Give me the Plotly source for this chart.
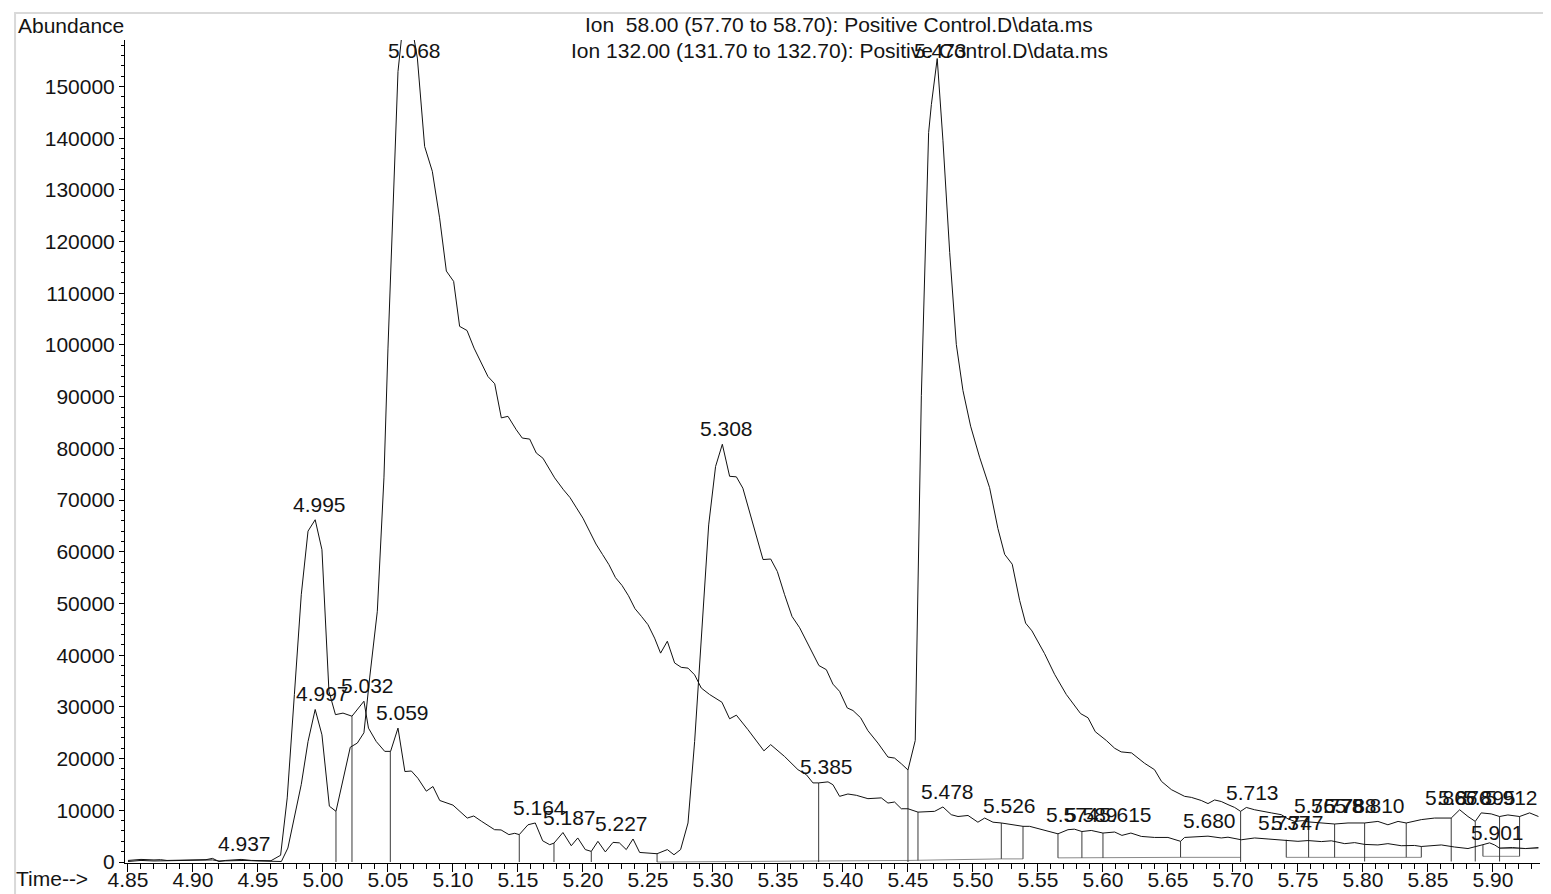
import plotly.graph_objects as go

# ---------------- data ----------------
# Trace A (peaks 4.995, 5.032, 5.059, 5.164 ... 5.308, 5.473, 5.713 ...)
trace_a_t = [4.850, 4.855, 4.860, 4.870, 4.875, 4.880, 4.890, 4.900, 4.910, 4.915,
             4.920, 4.925, 4.930, 4.937, 4.945, 4.955, 4.960, 4.9674, 4.9725, 4.978,
             4.9833, 4.9885, 4.994, 4.9992, 5.0046, 5.0096, 5.0154, 5.0223, 5.0315, 5.035,
             5.041, 5.0475, 5.052, 5.0577, 5.063, 5.068, 5.073, 5.0795, 5.0846, 5.0898,
             5.100, 5.111, 5.116, 5.1218, 5.132, 5.137, 5.143, 5.1475, 5.151, 5.1577,
             5.1633, 5.169, 5.1744, 5.1777, 5.1846, 5.191, 5.196, 5.2018, 5.2064, 5.2115,
             5.2172, 5.2231, 5.228, 5.2333, 5.2385, 5.2436, 5.2513, 5.257, 5.2649, 5.270,
             5.2751, 5.2808, 5.2859, 5.291, 5.2967, 5.302, 5.3072, 5.3128, 5.318, 5.323,
             5.3295, 5.3385, 5.3444, 5.3495, 5.3551, 5.3608, 5.3667, 5.3756, 5.3815, 5.3872,
             5.3923, 5.3974, 5.4033, 5.4077, 5.4136, 5.4192, 5.4269, 5.4346, 5.4397, 5.4449,
             5.450, 5.4556, 5.4603, 5.4659, 5.468, 5.4725, 5.4769, 5.4821, 5.4872, 5.4923,
             5.4982, 5.5051, 5.5128, 5.5192, 5.5244, 5.5302, 5.5359, 5.5405, 5.5454, 5.5551,
             5.5628, 5.5718, 5.5828, 5.5885, 5.5941, 5.6026, 5.609, 5.614, 5.622, 5.632,
             5.6397, 5.645, 5.6526, 5.6628, 5.668, 5.6756, 5.6808, 5.6859, 5.691, 5.6962,
             5.7013, 5.7059, 5.7103, 5.7167, 5.7244, 5.7295, 5.7372, 5.7423, 5.7474, 5.7538,
             5.7582, 5.7679, 5.7782, 5.7885, 5.8013, 5.8115, 5.8192, 5.827, 5.8333, 5.8449,
             5.8551, 5.8679, 5.8744, 5.8808, 5.8864, 5.891, 5.8987, 5.9051, 5.9115, 5.9205,
             5.9282, 5.935]
trace_a_v = [300, 400, 500, 400, 450, 300, 350, 350, 450, 700,
             100, 300, 350, 500, 300, 250, 250, 1300, 12400, 32400,
             51700, 64000, 66200, 60400, 33000, 28500, 28800, 28200, 31100, 25900,
             23300, 21400, 21400, 25900, 17500, 17600, 16200, 13700, 14600, 11900,
             11000, 8500, 8900, 7900, 6250, 6200, 5300, 5550, 5300, 7200,
             7550, 4100, 3350, 3650, 5700, 3150, 4650, 2400, 2050, 4000,
             1950, 3800, 3700, 2400, 4450, 1850, 1750, 1600, 2400, 1400,
             2400, 7550, 23300, 42700, 65200, 76500, 80800, 74600, 74500, 72300,
             66500, 58500, 58600, 56200, 51700, 47500, 45300, 40800, 38000, 37200,
             34400, 33000, 29800, 29300, 27900, 25400, 23000, 20300, 20100, 19000,
             17800, 23500, 90200, 141100, 146500, 155400, 139600, 117900, 100100, 91200,
             84300, 78300, 72400, 64500, 59500, 57600, 50600, 46200, 44700, 40300,
             36300, 32400, 28700, 27900, 25200, 23500, 22000, 21300, 21100, 19100,
             17850, 15600, 14000, 12700, 12500, 11900, 11300, 12000, 11700, 11100,
             10550, 9800, 10550, 10100, 9800, 9500, 9150, 8350, 7850, 8000,
             7750, 7550, 7350, 7550, 7550, 7850, 7200, 7850, 7550, 8200,
             8500, 8500, 10100, 8800, 7850, 9500, 9300, 8800, 9100, 8800,
             9500, 8800]

# Trace B (peaks 4.997, 5.068, 5.385, 5.478, 5.526 ...)
trace_b_t = [4.850, 4.860, 4.870, 4.880, 4.890, 4.900, 4.910, 4.915, 4.920, 4.930,
             4.940, 4.950, 4.960, 4.968, 4.973, 4.978, 4.9833, 4.9885, 4.994, 4.9992,
             5.0049, 5.010, 5.0154, 5.021, 5.0264, 5.0315, 5.0359, 5.0418, 5.0469, 5.050,
             5.0577, 5.0615, 5.0675, 5.0726, 5.0782, 5.0841, 5.0897, 5.0949, 5.1005, 5.1051,
             5.1108, 5.1162, 5.1269, 5.1321, 5.1372, 5.1423, 5.1487, 5.1533, 5.159, 5.1641,
             5.1692, 5.1782, 5.185, 5.190, 5.195, 5.200, 5.205, 5.210, 5.215, 5.220,
             5.225, 5.230, 5.235, 5.240, 5.245, 5.250, 5.2551, 5.2597, 5.2649, 5.2705,
             5.2756, 5.2808, 5.2859, 5.291, 5.2974, 5.3069, 5.3128, 5.318, 5.3269, 5.3392,
             5.3444, 5.3551, 5.3654, 5.3718, 5.3769, 5.3813, 5.3885, 5.3923, 5.3974, 5.4038,
             5.4103, 5.4192, 5.4295, 5.4346, 5.4397, 5.4449, 5.450, 5.4577, 5.4705, 5.4769,
             5.4833, 5.4885, 5.4962, 5.5038, 5.509, 5.5154, 5.5218, 5.5282, 5.5385, 5.5436,
             5.550, 5.559, 5.5654, 5.5731, 5.578, 5.5838, 5.591, 5.600, 5.609, 5.6146,
             5.6215, 5.6295, 5.6397, 5.650, 5.6551, 5.6597, 5.6628, 5.6756, 5.6808, 5.691,
             5.6962, 5.7064, 5.7167, 5.727, 5.7346, 5.741, 5.750, 5.7577, 5.768, 5.7757,
             5.786, 5.7936, 5.8013, 5.8115, 5.8192, 5.8295, 5.8397, 5.8449, 5.8603, 5.8705,
             5.8808, 5.8923, 5.8974, 5.9013, 5.905, 5.915, 5.925, 5.935]
trace_b_v = [100, 300, 200, 250, 200, 250, 300, 400, 200, 250,
             300, 200, 150, 100, 2700, 8500, 15000, 23300, 29500, 24600,
             10800, 9800, 15600, 22200, 23000, 25000, 35600, 48500, 74300, 99400,
             152900, 162000, 163000, 155500, 138400, 133600, 124600, 114300, 112300, 103600,
             102800, 99400, 93900, 92500, 85900, 86200, 83600, 82000, 81800, 79100,
             78100, 74300, 72000, 70500, 68500, 66500, 64000, 61500, 59500, 57500,
             55000, 53500, 51500, 49000, 47500, 45900, 43300, 40400, 42700, 38500,
             37650, 37500, 36200, 33650, 32400, 30900, 27700, 28400, 25600, 21500,
             22700, 20400, 17850, 16900, 15300, 15300, 15500, 14950, 12700, 13150,
             12900, 12250, 12400, 11400, 11600, 10300, 10300, 9650, 9800, 10650,
             9150, 8800, 9000, 7700, 8500, 7700, 7550, 7350, 6900, 6900,
             6450, 5900, 5450, 6250, 6350, 5900, 6100, 5600, 5800, 5150,
             5600, 4950, 4750, 4750, 4300, 4000, 4750, 4900, 5000, 4650,
             4800, 4300, 4650, 4450, 4300, 4300, 4000, 4150, 3950, 4100,
             3550, 3750, 3400, 3300, 3550, 3150, 3200, 3000, 3300, 2900,
             2600, 3350, 3700, 3300, 2700, 2800, 2600, 2800]

# integration drop lines: time, top abundance, bottom abundance
drop_t = [5.0100, 5.0223, 5.0518, 5.1510, 5.1777, 5.2064, 5.2570, 5.3813, 5.4500, 5.4577,
          5.5218, 5.5385, 5.5654, 5.5838, 5.6000, 5.6597, 5.7059, 5.7410, 5.7582, 5.7782,
          5.8013, 5.8333, 5.8449, 5.8679, 5.8864, 5.8923, 5.9051, 5.9205]
drop_top = [9800, 28200, 21400, 5300, 3650, 2050, 1600, 15300, 17800, 9650,
            7550, 6900, 5450, 5900, 5600, 4000, 9800, 4300, 7750, 7350,
            7550, 7550, 3000, 8500, 7850, 3350, 8800, 8800]
drop_bot = [0, 0, 0, 0, 0, 0, 0, 0, 0, 300,
            600, 600, 800, 800, 800, 900, 0, 900, 900, 900,
            100, 900, 900, 100, 100, 1100, 100, 1100]

# integration baselines: start time, end time, start abundance, end abundance
base_t0 = [5.2570, 5.4500, 5.5218, 5.5654, 5.6597, 5.7410, 5.8333, 5.8923, 5.9051]
base_t1 = [5.4500, 5.5218, 5.5385, 5.6597, 5.7059, 5.8333, 5.8449, 5.9205, 5.9350]
base_v0 = [0, 300, 600, 800, 900, 900, 900, 1100, 2600]
base_v1 = [300, 600, 600, 900, 900, 900, 900, 1100, 2600]

# peak labels: retention time and apex abundance used to place the text
label_t = [4.937, 4.995, 4.997, 5.032, 5.059, 5.068, 5.164, 5.187, 5.227, 5.308,
           5.385, 5.473, 5.478, 5.526, 5.574, 5.589, 5.615, 5.680, 5.713, 5.737,
           5.747, 5.765, 5.778, 5.788, 5.810, 5.866, 5.876, 5.895, 5.901, 5.912]
label_v = [500, 66200, 29500, 31100, 25900, 154000, 7550, 5700, 4450, 80800,
           15500, 154000, 10650, 7900, 6200, 6200, 6200, 5000, 10450, 4650,
           4650, 7950, 7950, 7950, 7950, 9500, 9500, 9500, 2700, 9500]

x_ticks = [4.85, 4.90, 4.95, 5.00, 5.05, 5.10, 5.15, 5.20, 5.25, 5.30, 5.35, 5.40,
           5.45, 5.50, 5.55, 5.60, 5.65, 5.70, 5.75, 5.80, 5.85, 5.90]
y_ticks = [0, 10000, 20000, 30000, 40000, 50000, 60000, 70000, 80000, 90000,
           100000, 110000, 120000, 130000, 140000, 150000]

title_lines = ["Ion\u00a0 58.00 (57.70 to 58.70): Positive Control.D\\data.ms",
               "Ion 132.00 (131.70 to 132.70): Positive Control.D\\data.ms"]

# ---------------- figure ----------------
FONT = "Liberation Sans, Arial, sans-serif"
TXT = "#141414"
fig = go.Figure()

# baselines
bx, by = [], []
for t0, t1, v0, v1 in zip(base_t0, base_t1, base_v0, base_v1):
    bx += [t0, t1, None]
    by += [v0, v1, None]
fig.add_trace(go.Scatter(x=bx, y=by, mode="lines",
                         line=dict(color="#8a8a8a", width=1), hoverinfo="skip"))

# drop lines
dx, dy = [], []
for t, top, bot in zip(drop_t, drop_top, drop_bot):
    dx += [t, t, None]
    dy += [bot, top, None]
fig.add_trace(go.Scatter(x=dx, y=dy, mode="lines",
                         line=dict(color="#3a3a3a", width=1), hoverinfo="skip"))

fig.add_trace(go.Scatter(x=trace_a_t, y=trace_a_v, mode="lines",
                         line=dict(color="#111111", width=1), name="A"))
fig.add_trace(go.Scatter(x=trace_b_t, y=trace_b_v, mode="lines",
                         line=dict(color="#111111", width=1), name="B"))

for t, v in zip(label_t, label_v):
    fig.add_annotation(x=t, y=v, xref="x", yref="y", text=f"{t:.3f}",
                       showarrow=False, xanchor="center", yanchor="bottom",
                       xshift=3, yshift=2,
                       font=dict(family=FONT, size=21, color=TXT))

# title lines
fig.add_annotation(x=0.5046, y=1.019, xref="paper", yref="paper", text=title_lines[0],
                   showarrow=False, xanchor="center", yanchor="middle",
                   font=dict(family=FONT, size=21, color=TXT))
fig.add_annotation(x=0.5046, y=0.987, xref="paper", yref="paper", text=title_lines[1],
                   showarrow=False, xanchor="center", yanchor="middle",
                   font=dict(family=FONT, size=21, color=TXT))
fig.add_annotation(x=-0.077, y=1.018, xref="paper", yref="paper", text="Abundance",
                   showarrow=False, xanchor="left", yanchor="middle",
                   font=dict(family=FONT, size=21, color=TXT))
fig.add_annotation(x=-0.0785, y=-0.0194, xref="paper", yref="paper", text="Time-->",
                   showarrow=False, xanchor="left", yanchor="middle",
                   font=dict(family=FONT, size=21, color=TXT))

# light frame around the whole picture
fig.add_shape(type="rect", xref="paper", yref="paper",
              x0=-0.0777, x1=1.0078, y0=-0.0425, y1=1.0328,
              line=dict(color="#d9d9d9", width=2))

fig.update_layout(
    width=1551, height=894,
    margin=dict(l=117, r=19, t=32, b=39),
    paper_bgcolor="white", plot_bgcolor="white",
    showlegend=False,
    font=dict(family=FONT, size=21, color=TXT),
    xaxis=dict(range=[4.8477, 5.9362], tickmode="array", tickvals=x_ticks,
               ticktext=[f"{v:.2f}" for v in x_ticks],
               ticks="outside", ticklen=8, tickwidth=1, tickcolor="black",
               ticklabelstandoff=-10,
               showline=True, linecolor="black", linewidth=1,
               showgrid=False, zeroline=False,
               minor=dict(dtick=0.01, tick0=4.85, ticks="outside", ticklen=5,
                          tickcolor="black", showgrid=False),
               tickfont=dict(family=FONT, size=21, color=TXT)),
    yaxis=dict(range=[-193, 158990], tickmode="array", tickvals=y_ticks,
               ticktext=[str(v) for v in y_ticks],
               ticks="outside", ticklen=5, tickwidth=1, tickcolor="black",
               showline=True, linecolor="black", linewidth=1,
               showgrid=False, zeroline=False,
               minor=dict(dtick=2000, tick0=0, ticks="outside", ticklen=3,
                          tickcolor="black", showgrid=False),
               tickfont=dict(family=FONT, size=21, color=TXT)),
)

fig.write_html("out.html", config={"displayModeBar": False})
